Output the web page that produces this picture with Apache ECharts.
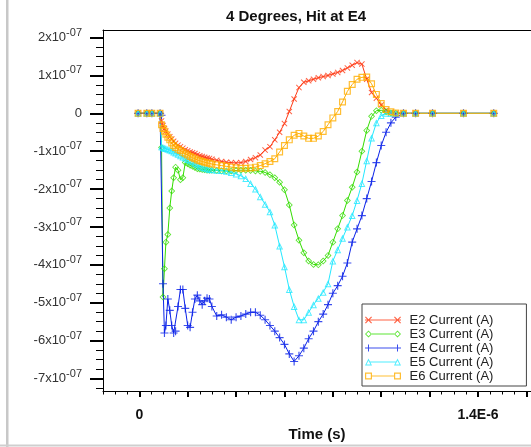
<!DOCTYPE html>
<html>
<head>
<meta charset="utf-8">
<script src="https://cdn.jsdelivr.net/npm/echarts@6/dist/echarts.min.js"></script>
<style>
  html, body { margin: 0; padding: 0; background: #fff; }
  #chart { width: 531px; height: 447px; }
</style>
</head>
<body>
<div id="chart"></div>
<script>
// time in ns, currents in units of 1e-7 A
const timeNs = [-5, 31, 52,
  86, 92, 98, 104, 110, 118, 126, 134, 142, 150, 160, 170, 180, 190, 200, 210, 220, 230, 240, 250, 260, 270, 280, 290, 300,
  320, 340, 360, 380, 400, 420, 440, 460, 480, 500, 520, 540, 560, 580, 600, 620, 640, 660, 680, 700, 720, 740, 760, 780,
  800, 820, 840, 860, 880, 900, 920, 940, 960, 980, 1000, 1020, 1040, 1060,
  1092, 1142, 1212, 1340, 1465];

const e2 = [0, 0, 0,
  0, -0.2, -0.32, -0.4, -0.47, -0.55, -0.62, -0.68, -0.74, -0.79, -0.84, -0.88, -0.92, -0.96, -0.99, -1.02, -1.04, -1.06, -1.09, -1.12, -1.14, -1.16, -1.18, -1.19, -1.21,
  -1.24, -1.27, -1.29, -1.3, -1.31, -1.3, -1.27, -1.22, -1.17, -1.1, -0.97, -0.88, -0.7, -0.5, -0.27, 0.05, 0.38, 0.68, 0.82, 0.86, 0.9, 0.94, 0.97, 1.0,
  1.04, 1.08, 1.13, 1.2, 1.27, 1.34, 1.3, 0.9, 0.55, 0.4, 0.22, 0.08, 0.03, 0.01,
  0, 0, 0, 0, 0];

const e3 = [0, 0, 0,
  0, -0.9, -4.85, -4.1, -3.4, -3.2, -2.5, -2.05, -1.7, -1.42, -1.5, -1.75, -1.7, -1.3, -1.33, -1.37, -1.4, -1.43, -1.46, -1.47, -1.48, -1.49, -1.5, -1.5, -1.5,
  -1.51, -1.52, -1.52, -1.52, -1.51, -1.5, -1.5, -1.51, -1.52, -1.53, -1.56, -1.62, -1.7, -1.82, -2.02, -2.42, -2.95, -3.35, -3.68, -3.9, -3.99, -4.0, -3.9, -3.75,
  -3.4, -3.05, -2.7, -2.3, -1.95, -1.55, -1.0, -0.45, -0.08, 0.07, 0.08, 0.04, 0.01, 0,
  0, 0, 0, 0, 0];

const e4 = [0, 0, 0,
  0, -0.05, -4.5, -5.8, -5.6, -4.9, -5.2, -5.6, -5.8, -5.75, -5.1, -4.65, -4.65, -5.15, -5.6, -5.65, -5.25, -4.9, -4.8, -4.95, -5.05, -4.95, -4.88, -4.9, -5.1,
  -5.35, -5.32, -5.38, -5.45, -5.38, -5.35, -5.3, -5.25, -5.25, -5.33, -5.45, -5.6, -5.75, -5.92, -6.1, -6.35, -6.55, -6.4, -6.2, -5.95, -5.75, -5.5, -5.3, -5.05,
  -4.75, -4.55, -4.3, -3.95, -3.4, -3.05, -2.7, -2.25, -1.8, -1.3, -0.85, -0.5, -0.25, -0.1,
  0, 0, 0, 0, 0];

const e5 = [0, 0, 0,
  0, -0.88, -0.9, -0.92, -0.93, -0.95, -0.97, -0.99, -1.02, -1.05, -1.08, -1.12, -1.15, -1.18, -1.22, -1.25, -1.28, -1.32, -1.36, -1.4, -1.42, -1.44, -1.46, -1.48, -1.49,
  -1.5, -1.51, -1.53, -1.56, -1.6, -1.65, -1.72, -1.85, -2.0, -2.2, -2.4, -2.6, -2.95, -3.5, -4.05, -4.65, -5.1, -5.45, -5.45, -5.25, -5.05, -4.88, -4.72, -4.5,
  -3.9, -3.6, -3.3, -3.0, -2.7, -2.3, -1.85, -1.25, -0.65, -0.25, -0.06, 0, 0, 0,
  0, 0, 0, 0, 0];

const e6 = [0, 0, 0,
  0, -0.3, -0.4, -0.47, -0.55, -0.63, -0.7, -0.78, -0.85, -0.9, -0.95, -0.98, -1.03, -1.07, -1.1, -1.14, -1.17, -1.2, -1.23, -1.25, -1.27, -1.29, -1.31, -1.32, -1.34,
  -1.36, -1.38, -1.4, -1.42, -1.44, -1.45, -1.45, -1.44, -1.42, -1.38, -1.33, -1.27, -1.2, -1.02, -0.85, -0.7, -0.58, -0.53, -0.6, -0.66, -0.66, -0.6, -0.48, -0.3,
  -0.12, 0.05, 0.3, 0.58, 0.76, 0.9, 0.95, 0.96, 0.78, 0.5, 0.26, 0.1, 0.04, 0.01,
  0, 0, 0, 0, 0];

const seriesNames = ['E2 Current (A)', 'E3 Current (A)', 'E4 Current (A)', 'E5 Current (A)', 'E6 Current (A)'];
const yTickValues = [2, 1, 0, -1, -2, -3, -4, -5, -6, -7];
const xTickValues = [0, 200, 400, 600, 800, 1000, 1200, 1400, 1600];
const xLabelValues = [0, 1400];
const xLabelText = { 0: '0', 1400: '1.4E-6' };

const yMinor = [];
for (let v = -7.25; v <= 2.2; v += 0.25) yMinor.push(+v.toFixed(2));
const xMinor = [];
for (let v = -150; v <= 1600; v += 50) xMinor.push(v);

const colors = ['#ff3a14', '#33dd00', '#0a22e8', '#22e8ff', '#ffae00'];

const sym = {
  x: 'path://M0,0.8L0.8,0L3.5,2.7L6.2,0L7,0.8L4.3,3.5L7,6.2L6.2,7L3.5,4.3L0.8,7L0,6.2L2.7,3.5Z',
  diamond: 'path://M3.5,0L7,3.5L3.5,7L0,3.5ZM3.5,1.2L1.2,3.5L3.5,5.8L5.8,3.5Z',
  plus: 'path://M3,0H4V3H7V4H4V7H3V4H0V3H3Z',
  triangle: 'path://M3.5,0L7,7L0,7ZM3.5,2.3L1.5,6L5.5,6Z',
  square: 'path://M0,0H7V7H0ZM1.2,1.2V5.8H5.8V1.2Z'
};
const legendIcons = [
  'path://M0,3H36V4H0ZM0,0.8L0.8,0L3.5,2.7L6.2,0L7,0.8L4.3,3.5L7,6.2L6.2,7L3.5,4.3L0.8,7L0,6.2L2.7,3.5ZM29,0.8L29.8,0L32.5,2.7L35.2,0L36,0.8L33.3,3.5L36,6.2L35.2,7L32.5,4.3L29.8,7L29,6.2L31.7,3.5Z',
  'path://M7,3H29V4H7ZM3.5,0L7,3.5L3.5,7L0,3.5ZM3.5,1.2L1.2,3.5L3.5,5.8L5.8,3.5ZM32.5,0L36,3.5L32.5,7L29,3.5ZM32.5,1.2L30.2,3.5L32.5,5.8L34.8,3.5Z',
  'path://M0,3H36V4H0ZM3,0H4V3H7V4H4V7H3V4H0V3H3ZM32,0H33V3H36V4H33V7H32V4H29V3H32Z',
  'path://M5,3H31V4H5ZM3.5,0L7,7L0,7ZM3.5,2.3L1.5,6L5.5,6ZM32.5,0L36,7L29,7ZM32.5,2.3L30.5,6L34.5,6Z',
  'path://M7,3H29V4H7ZM0,0H7V7H0ZM1.2,1.2V5.8H5.8V1.2ZM29,0H36V7H29ZM30.2,1.2V5.8H34.8V1.2Z'
];
const symbols = [sym.x, sym.diamond, sym.plus, sym.triangle, sym.square];
const symbolSizes = [6, 7, 8, 7, 7];
const values = [e2, e3, e4, e5, e6];

const font = 'Liberation Sans';
// plot runs off the right edge of the window: visible part is 428px wide
const X_MIN = -150, X_MAX = 1619, Y_MIN = -7.33, Y_MAX = 2.2;

const chart = echarts.init(document.getElementById('chart'));

const option = {
  animation: false,
  backgroundColor: '#fff',
  title: {
    text: '4 Degrees, Hit at E4',
    left: 291, top: 4, textAlign: 'center',
    textStyle: { fontFamily: font, fontSize: 15, fontWeight: 'bold', color: '#111' }
  },
  graphic: [
    { type: 'rect', shape: { x: 6, y: 0, width: 2.5, height: 447 }, style: { fill: '#c8c8c8' } },
    { type: 'rect', shape: { x: 0, y: 444.5, width: 531, height: 2 }, style: { fill: '#cfcfcf' } }
  ],
  legend: {
    orient: 'vertical',
    left: 362, top: 304,
    padding: [9, 33, 3, 3],
    itemWidth: 36, itemHeight: 7, itemGap: 0,
    borderColor: '#444', borderWidth: 1,
    formatter: n => ' ' + n,
    textStyle: { fontFamily: font, fontSize: 13, color: '#222', lineHeight: 14 },
    data: seriesNames.map((n, i) => ({ name: n, icon: legendIcons[i] }))
  },
  grid: {
    left: 103, top: 30, width: 428, height: 362,
    show: false
  },
  xAxis: [{
    type: 'value', min: X_MIN, max: X_MAX, position: 'bottom',
    name: 'Time (s)', nameLocation: 'middle', nameGap: 36,
    nameTextStyle: { fontFamily: font, fontSize: 15, fontWeight: 'bold', color: '#111' },
    axisLine: { onZero: false, lineStyle: { color: '#000', width: 1 } },
    axisTick: { inside: false, length: 6, lineStyle: { color: '#000', width: 2 }, customValues: xTickValues },
    axisLabel: {
      margin: 17, customValues: xLabelValues,
      formatter: v => xLabelText[v] !== undefined ? xLabelText[v] : '',
      fontFamily: font, fontSize: 14, fontWeight: 'bold', color: '#111'
    },
    splitLine: { show: false }
  }, {
    type: 'value', min: X_MIN, max: X_MAX, position: 'bottom',
    axisLine: { show: false, onZero: false },
    axisTick: { inside: false, length: 3.5, lineStyle: { color: '#000', width: 1 }, customValues: xMinor },
    axisLabel: { show: false },
    splitLine: { show: false }
  }, {
    type: 'value', min: X_MIN, max: X_MAX, position: 'top',
    axisLine: { show: true, onZero: false, lineStyle: { color: '#000', width: 1 } },
    axisTick: { show: false },
    axisLabel: { show: false },
    splitLine: { show: false }
  }],
  yAxis: [{
    type: 'value', min: Y_MIN, max: Y_MAX, position: 'left',
    axisLine: { show: true, onZero: false, lineStyle: { color: '#000', width: 1 } },
    axisTick: { inside: false, length: 13, lineStyle: { color: '#000', width: 2 }, customValues: yTickValues },
    axisLabel: {
      margin: 21, customValues: yTickValues,
      formatter: v => v === 0 ? '{m|0}' : '{m|' + v + 'x10}{s|-07}',
      rich: {
        m: { fontFamily: font, fontSize: 13, color: '#333' },
        s: { fontFamily: font, fontSize: 11, color: '#333', padding: [0, 0, 10, 0] }
      }
    },
    splitLine: { show: false }
  }, {
    type: 'value', min: Y_MIN, max: Y_MAX, position: 'left',
    axisLine: { show: false, onZero: false },
    axisTick: { inside: false, length: 7, lineStyle: { color: '#000', width: 1 }, customValues: yMinor },
    axisLabel: { show: false },
    splitLine: { show: false }
  }],
  series: seriesNames.map((name, i) => ({
    name: name,
    type: 'line',
    xAxisIndex: 0, yAxisIndex: 0,
    data: timeNs.map((t, k) => [t, values[i][k]]),
    symbol: symbols[i],
    symbolSize: symbolSizes[i],
    lineStyle: { color: colors[i], width: 1 },
    itemStyle: { color: colors[i], opacity: 0.8 },
    emphasis: { disabled: true }
  }))
};

chart.setOption(option);
</script>
</body>
</html>
